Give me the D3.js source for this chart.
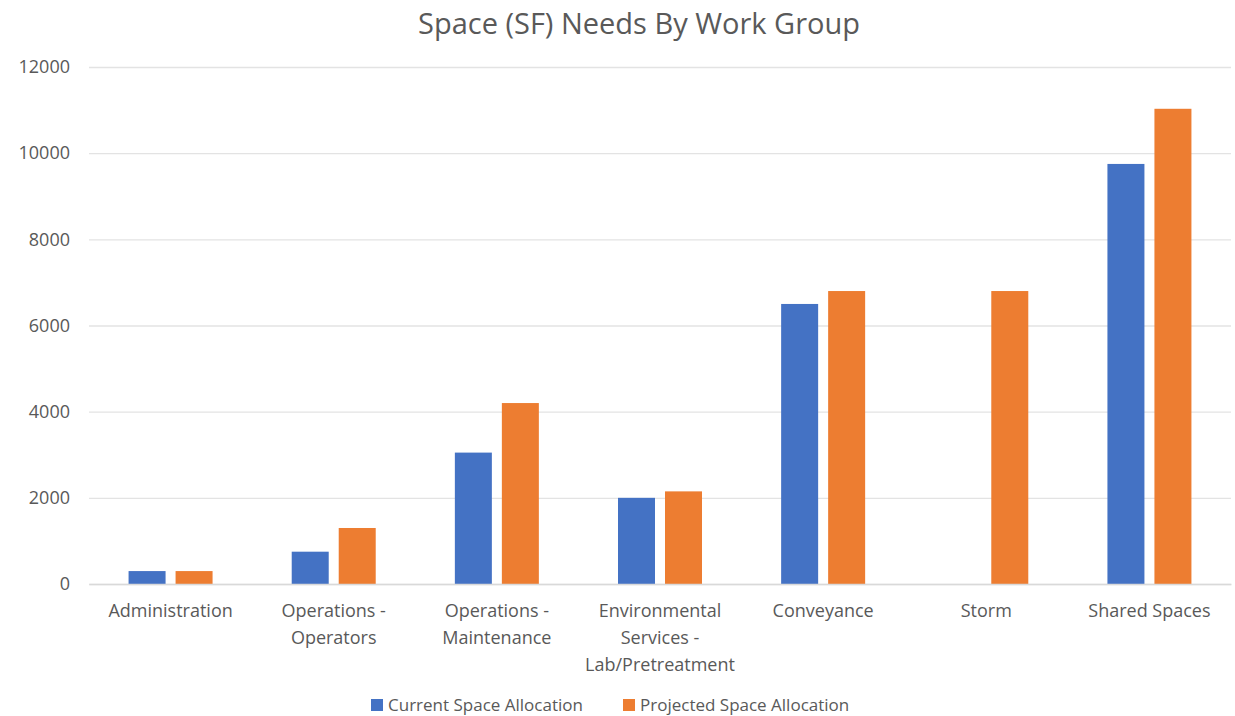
<!DOCTYPE html>
<html>
<head>
<meta charset="utf-8">
<script src="https://cdn.jsdelivr.net/npm/d3@7"></script>
<style>
  body { margin: 0; background: #fff; }
  svg text { font-family: "Open Sans", sans-serif; fill: #595959; }
</style>
</head>
<body>
<svg id="chart"></svg>
<script>
const categories = [
  ['Administration'],
  ['Operations -', 'Operators'],
  ['Operations -', 'Maintenance'],
  ['Environmental', 'Services -', 'Lab/Pretreatment'],
  ['Conveyance'],
  ['Storm'],
  ['Shared Spaces']
];
const seriesNames = ['Current Space Allocation', 'Projected Space Allocation'];
const currentValues = [300, 750, 3050, 2000, 6500, 0, 9750];
const projectedValues = [300, 1300, 4200, 2150, 6800, 6800, 11030];
const yTicks = [0, 2000, 4000, 6000, 8000, 10000, 12000];
const colors = ['#4472C4', '#ED7D31'];

const W = 1235, H = 716;
const margin = { top: 67, right: 4, bottom: 132, left: 89 };
const width = W - margin.left - margin.right;
const height = H - margin.top - margin.bottom;

const root = d3.select('#chart').attr('width', W).attr('height', H);

// Title
root.append('text')
  .attr('x', 639).attr('y', 34)
  .attr('text-anchor', 'middle')
  .style('font-size', '29px')
  .text('Space (SF) Needs By Work Group');

const svg = root.append('g')
  .attr('transform', `translate(${margin.left}, ${margin.top})`);

const idx = d3.range(categories.length);
const x0 = d3.scaleBand().domain(idx).range([0, width]).padding(0);
const groupW = 84;
const x1 = d3.scaleBand().domain([0, 1])
  .range([(x0.bandwidth() - groupW) / 2, (x0.bandwidth() + groupW) / 2])
  .paddingInner(10 / 47).paddingOuter(0);

const y = d3.scaleLinear().domain([0, 12000]).range([height, 0]);

// Gridlines + y labels
const yAxis = d3.axisLeft(y).tickValues(yTicks).tickSize(-width).tickPadding(19)
  .tickFormat(d3.format('d'));
const gy = svg.append('g').call(yAxis);
gy.select('.domain').remove();
gy.selectAll('.tick line').attr('stroke', '#e3e3e3').attr('stroke-width', 1.3);
gy.selectAll('.tick text').style('font-size', '18px').attr('fill', '#595959');

// Bars
const rows = idx.map(i => [currentValues[i], projectedValues[i]]);
const groups = svg.selectAll('.group')
  .data(rows)
  .enter()
  .append('g')
  .attr('class', 'group')
  .attr('transform', (d, i) => `translate(${x0(i)}, 0)`);

groups.selectAll('rect')
  .data(d => d.map((v, s) => ({ v, s })))
  .enter()
  .append('rect')
  .attr('x', d => x1(d.s))
  .attr('y', d => y(d.v))
  .attr('width', x1.bandwidth())
  .attr('height', d => height - y(d.v))
  .attr('fill', d => colors[d.s]);

// Category labels
const xAxis = d3.axisBottom(x0).tickSize(0).tickFormat('');
const gx = svg.append('g')
  .attr('transform', `translate(0, ${height})`)
  .call(xAxis);
gx.select('.domain').attr('stroke', '#d9d9d9').attr('stroke-width', 1.3);
gx.selectAll('.tick').each(function (i) {
  const t = d3.select(this).append('text')
    .attr('text-anchor', 'middle')
    .attr('fill', '#595959')
    .style('font-size', '18px');
  categories[i].forEach((line, k) => {
    t.append('tspan').attr('x', 0).attr('y', 33 + k * 27).text(line);
  });
});

// Legend
const legendX = [371, 623];
const legend = root.append('g');
seriesNames.forEach((name, s) => {
  legend.append('rect')
    .attr('x', legendX[s]).attr('y', 699)
    .attr('width', 12).attr('height', 12)
    .attr('fill', colors[s]);
  legend.append('text')
    .attr('x', legendX[s] + 17).attr('y', 711)
    .style('font-size', '17px')
    .text(name);
});
</script>
</body>
</html>
